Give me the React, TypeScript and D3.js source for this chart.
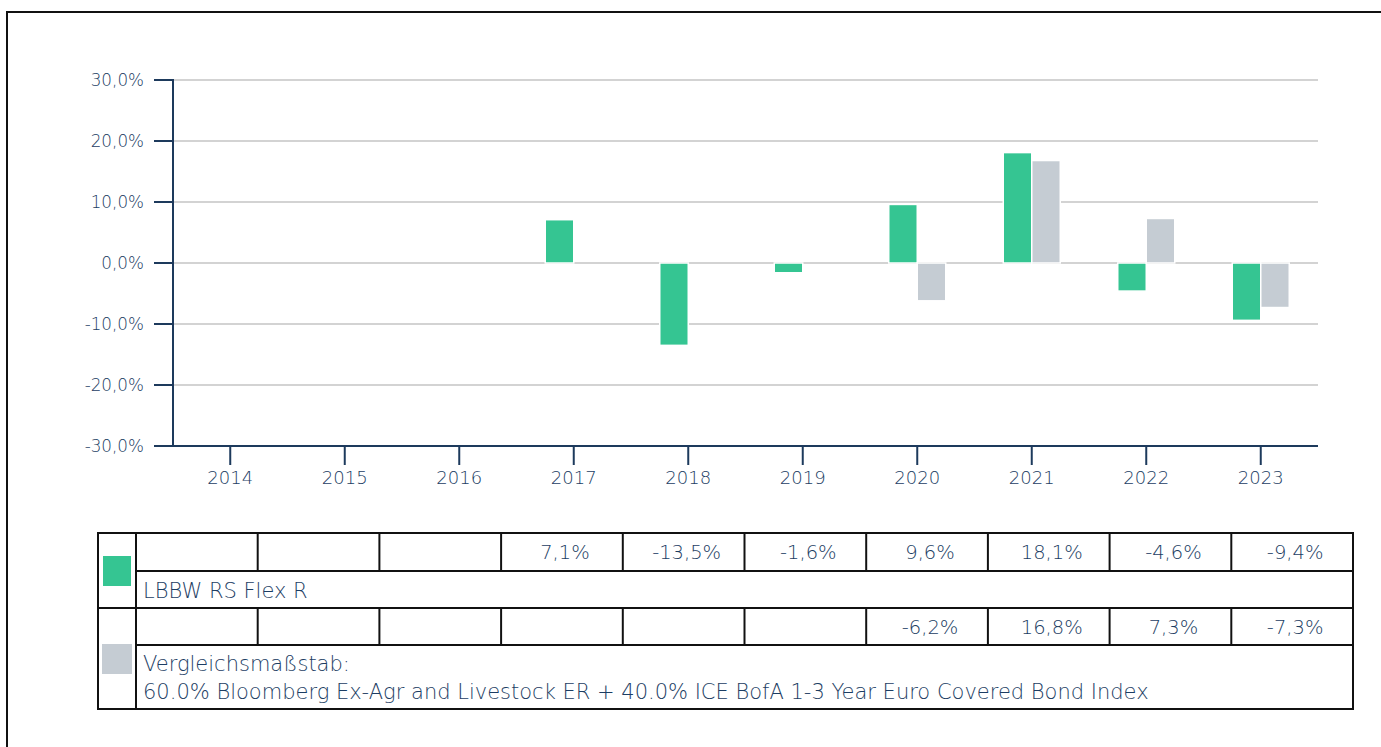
import React from "react";
import * as d3 from "d3";

const years = ["2014", "2015", "2016", "2017", "2018", "2019", "2020", "2021", "2022", "2023"];
const fundValues: (number | null)[] = [null, null, null, 7.1, -13.5, -1.6, 9.6, 18.1, -4.6, -9.4];
const benchValues: (number | null)[] = [null, null, null, null, null, null, -6.2, 16.8, 7.3, -7.3];
const yTicks = [30, 20, 10, 0, -10, -20, -30];
const fundName = "LBBW RS Flex R";
const benchLines = ["Vergleichsmaßstab:", "60.0% Bloomberg Ex-Agr and Livestock ER + 40.0% ICE BofA 1-3 Year Euro Covered Bond Index"];

const GREEN = "#35c592";
const GREY = "#c5ccd3";
const NAVY = "#1d3a5c";
const TEXT = "#1c3d63";
const FONT = "'DejaVu Sans', sans-serif";

const fmt = (v: number) => v.toFixed(1).replace(".", ",") + "%";

export default function App() {
  const x = d3.scaleBand<string>().domain(years).range([173, 1318]).padding(0);
  const y = d3.scaleLinear().domain([-30, 30]).range([446, 80]);
  const bw = 28.5;

  const tL = 98, tLeg = 136, tR = 1353;
  const rows = [533, 571, 608, 645, 709];
  const colX = d3.scaleBand<string>().domain(years).range([tLeg, tR]);

  return (
    <svg width={1381} height={747} style={{ position: "absolute", left: 0, top: 0, background: "#fff" }} fontFamily={FONT}>
      <rect x={7} y={12} width={1500} height={900} fill="none" stroke="#111" strokeWidth={2} />
      {yTicks.filter((t) => t !== -30).map((t) => (
        <line key={"g" + t} x1={173} x2={1318} y1={y(t)} y2={y(t)} stroke="#d3d3d3" strokeWidth={2} />
      ))}
      {years.map((yr, i) => {
        const c = (x(yr) as number) + x.bandwidth() / 2;
        const f = fundValues[i];
        const b = benchValues[i];
        return (
          <g key={"b" + yr}>
            {f !== null && (
              <rect x={c - bw} width={bw} y={y(Math.max(0, f))} height={Math.abs(y(f) - y(0))} fill={GREEN} stroke="#fff" strokeWidth={1.5} />
            )}
            {b !== null && (
              <rect x={c} width={bw} y={y(Math.max(0, b))} height={Math.abs(y(b) - y(0))} fill={GREY} stroke="#fff" strokeWidth={1.5} />
            )}
          </g>
        );
      })}
      <line x1={173} x2={173} y1={y(30) - 1} y2={y(-30)} stroke={NAVY} strokeWidth={2} />
      {yTicks.map((t) => (
        <g key={"y" + t}>
          <line x1={154} x2={173} y1={y(t)} y2={y(t)} stroke={NAVY} strokeWidth={2} />
          <text x={144} y={y(t)} dy="0.36em" textAnchor="end" fontSize={16.8} fill={TEXT} fontWeight={200}>
            {fmt(t)}
          </text>
        </g>
      ))}
      <line x1={173} x2={1318} y1={y(-30)} y2={y(-30)} stroke={NAVY} strokeWidth={2} />
      {years.map((yr) => {
        const c = (x(yr) as number) + x.bandwidth() / 2;
        return (
          <g key={"x" + yr}>
            <line x1={c} x2={c} y1={y(-30)} y2={465} stroke={NAVY} strokeWidth={2} />
            <text x={c} y={478} dy="0.36em" textAnchor="middle" fontSize={18} fill={TEXT} fontWeight={200}>
              {yr}
            </text>
          </g>
        );
      })}
      <g stroke="#111" strokeWidth={2} fill="none">
        <rect x={tL} y={rows[0]} width={tR - tL} height={rows[4] - rows[0]} />
        <line x1={tLeg} x2={tLeg} y1={rows[0]} y2={rows[4]} />
        <line x1={tL} x2={tR} y1={rows[2]} y2={rows[2]} />
        <line x1={tLeg} x2={tR} y1={rows[1]} y2={rows[1]} />
        <line x1={tLeg} x2={tR} y1={rows[3]} y2={rows[3]} />
        {years.slice(1).map((yr) => (
          <g key={"c" + yr}>
            <line x1={colX(yr)} x2={colX(yr)} y1={rows[0]} y2={rows[1]} />
            <line x1={colX(yr)} x2={colX(yr)} y1={rows[2]} y2={rows[3]} />
          </g>
        ))}
      </g>
      {years.map((yr, i) => {
        const c = (colX(yr) as number) + colX.bandwidth() / 2;
        const f = fundValues[i];
        const b = benchValues[i];
        return (
          <g key={"t" + yr} fontSize={19.5} fill={TEXT} fontWeight={200} textAnchor="middle">
            {f !== null && <text x={c + 3} y={(rows[0] + rows[1]) / 2} dy="0.36em">{fmt(f)}</text>}
            {b !== null && <text x={c + 3} y={(rows[2] + rows[3]) / 2} dy="0.36em">{fmt(b)}</text>}
          </g>
        );
      })}
      <rect x={103} y={556} width={28} height={30} fill={GREEN} />
      <rect x={102} y={644} width={30} height={30} fill={GREY} />
      <g fontSize={21} fill={TEXT} fontWeight={200}>
        <text x={143} y={598}>{fundName}</text>
        <text x={143} y={671}>{benchLines[0]}</text>
        <text x={143} y={699}>{benchLines[1]}</text>
      </g>
    </svg>
  );
}
